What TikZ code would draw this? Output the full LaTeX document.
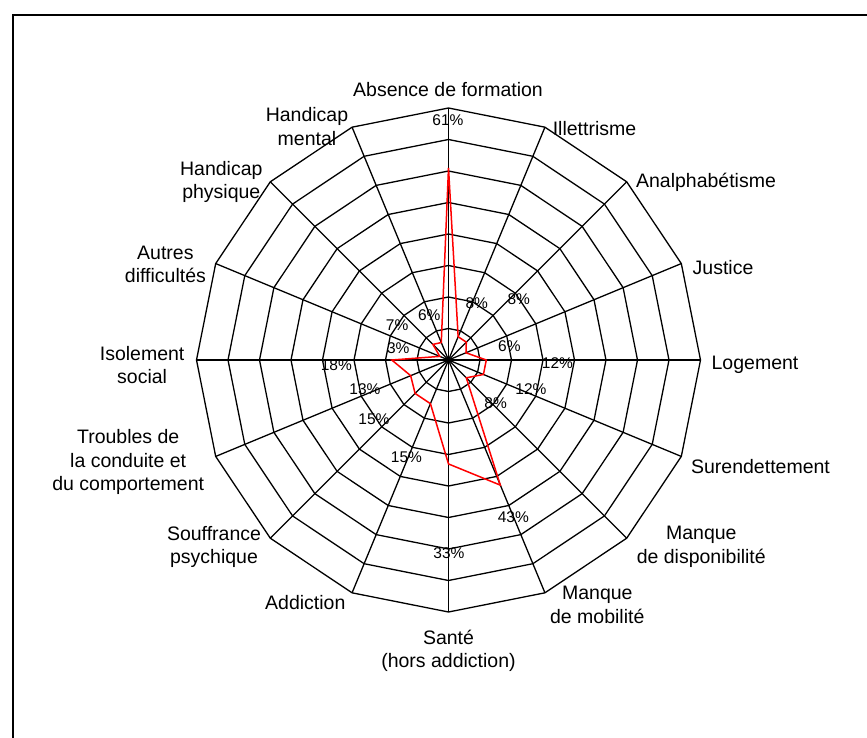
\documentclass[tikz,border=0pt]{standalone}
\usepackage{fontspec}
\setmainfont{Liberation Sans}
\begin{document}
\begin{tikzpicture}[x=1pt,y=-1pt,
  grid/.style={black, line width=1.3pt},
  series/.style={red, line width=1.5pt, line join=miter},
  frame/.style={black, line width=2pt},
  axlab/.style={font=\fontsize{19.5}{23.5}\selectfont, align=center, inner sep=0pt},
  pct/.style={font=\fontsize{15.5}{18}\selectfont, inner sep=0pt}]
\useasboundingbox (0,0) rectangle (867,738);
\fill[white] (0,0) rectangle (867,738);
\draw[frame] (12.5,738) -- (12.5,15) -- (867,15);
\coordinate (c) at (448.5,360);
% outer vertices
\foreach \k in {0,...,15} {
  \coordinate (o\k) at ([shift={(-90+22.5*\k:252)}]c);
}
% rings
\foreach \r in {1,...,8} {
  \draw[grid] ([shift={(-90:\r*31.5)}]c)
    \foreach \k in {1,...,15} { -- ([shift={(-90+22.5*\k:\r*31.5)}]c) } -- cycle;
}
% spokes
\foreach \k in {0,...,15} { \draw[grid] (c) -- (o\k); }
\fill[black] (c) circle (2.5);
% data
\foreach \v [count=\i from 0] in {61,8,8,6,12,12,8,43,33,15,15,13,18,3,7,6} {
  \coordinate (p\i) at ([shift={(-90+22.5*\i:\v*3.15)}]c);
}
\draw[series] (p0) -- (p1) -- (p2) -- (p3) -- (p4) -- (p5) -- (p6) -- (p7) -- (p8)
  -- (p9) -- (p10) -- (p11) -- (p12) -- (p13) -- (p14) -- (p15) -- cycle;
% axis labels
\node[axlab] (l0) at (448,90) {Absence de formation};
\node[axlab] (l1) at (594.5,128.5) {Illettrisme};
\node[axlab] (l2) at (706,182.6) {Analphabétisme};
\node[axlab] (l3) at (723,268) {Justice};
\node[axlab] (l4) at (755,364.7) {Logement};
\node[axlab] (l5) at (760.5,466.8) {Surendettement};
\node[axlab] (l6) at (701.3,546.8) {Manque\\de disponibilité};
\node[axlab] (l7) at (597.3,604.8) {Manque\\de mobilité};
\node[axlab] (l8) at (448.5,650.6) {Santé\\(hors addiction)};
\node[axlab] (l9) at (305.3,602.4) {Addiction};
\node[axlab] (l10) at (214,546.8) {Souffrance\\psychique};
\node[axlab] (l11) at (128.2,462.4) {Troubles de\\la conduite et\\du comportement};
\node[axlab] (l12) at (142.1,364.8) {Isolement\\social};
\node[axlab] (l13) at (165.4,264.5) {Autres\\difficultés};
\node[axlab] (l14) at (221.3,182.2) {Handicap\\physique};
\node[axlab] (l15) at (307,126.6) {Handicap\\mental};
% value labels
\node[pct] (v0) at (448,120) {61\%};
\node[pct] (v1) at (476.8,303.5) {8\%};
\node[pct] (v2) at (518.8,298.8) {8\%};
\node[pct] (v3) at (509.4,345.9) {6\%};
\node[pct] (v4) at (557.5,363.3) {12\%};
\node[pct] (v5) at (531,389.6) {12\%};
\node[pct] (v6) at (495.6,403.3) {8\%};
\node[pct] (v7) at (513.3,517.6) {43\%};
\node[pct] (v8) at (449,553) {33\%};
\node[pct] (v9) at (406.5,457.4) {15\%};
\node[pct] (v10) at (373.9,418.8) {15\%};
\node[pct] (v11) at (365,389.6) {13\%};
\node[pct] (v12) at (336.3,364.7) {18\%};
\node[pct] (v13) at (398.2,348.2) {3\%};
\node[pct] (v14) at (397.1,325.6) {7\%};
\node[pct] (v15) at (429.2,315.3) {6\%};
\end{tikzpicture}
\end{document}
